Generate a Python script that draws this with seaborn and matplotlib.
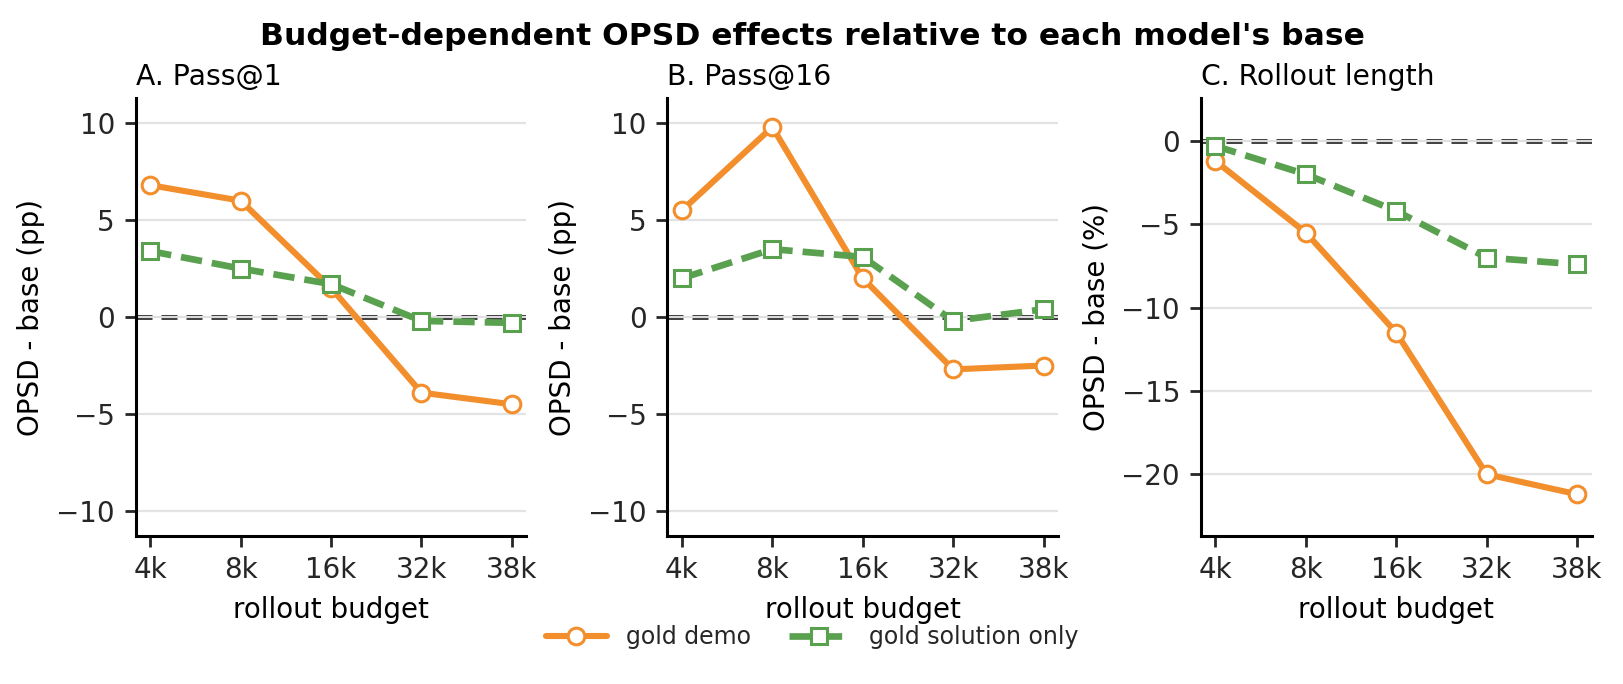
import matplotlib
matplotlib.use("Agg")
import matplotlib.pyplot as plt
import seaborn as sns
import pandas as pd

budgets = ["4k", "8k", "16k", "32k", "38k"]
pass1_demo = [6.8, 6.0, 1.5, -3.9, -4.5]
pass1_sol = [3.4, 2.5, 1.7, -0.2, -0.3]
pass16_demo = [5.5, 9.8, 2.0, -2.7, -2.5]
pass16_sol = [2.0, 3.5, 3.1, -0.2, 0.4]
length_demo = [-1.2, -5.5, -11.5, -20.0, -21.2]
length_sol = [-0.3, -2.0, -4.2, -7.0, -7.4]

panels = [
    ("A. Pass@1", "OPSD - base (pp)", pass1_demo, pass1_sol, (-11.27, 11.27)),
    ("B. Pass@16", "OPSD - base (pp)", pass16_demo, pass16_sol, (-11.27, 11.27)),
    ("C. Rollout length", "OPSD - base (%)", length_demo, length_sol, (-23.68, 2.55)),
]

orange = "#F28E2B"
green = "#59A14F"

sns.set_theme(style="ticks")
plt.rcParams["font.family"] = ["DejaVu Sans"]

fig = plt.figure(figsize=(8.12, 3.42), dpi=200)
lefts = [0.0836, 0.411, 0.7395]
axes = [fig.add_axes([l, 0.217, 0.2405, 0.639]) for l in lefts]

for ax, (title, ylab, demo, sol, ylim) in zip(axes, panels):
    df = pd.DataFrame({"budget": budgets, "demo": demo, "sol": sol})
    ax.yaxis.grid(True, color="#e3e3e3", lw=0.8)
    ax.set_axisbelow(True)
    # zero reference line
    ax.axhline(0, color="#444444", lw=1.8, ls=(0, (3.2, 1.8)), zorder=1.5)
    ax.axhline(0, color="#e0e0e0", lw=0.7, zorder=1.6)
    sns.lineplot(data=df, x="budget", y="demo", ax=ax, color=orange, lw=2.2,
                 marker="o", markersize=6, markerfacecolor="white",
                 markeredgecolor=orange, markeredgewidth=1.1, label="gold demo", zorder=3)
    sns.lineplot(data=df, x="budget", y="sol", ax=ax, color=green, lw=2.4,
                 marker="s", markersize=6, markerfacecolor="white",
                 markeredgecolor=green, markeredgewidth=1.1, linestyle=(0, (3.2, 1.5)),
                 label="gold solution only", zorder=3)
    ax.set_xlim(-0.16, 4.16)
    ax.set_ylim(*ylim)
    ax.set_title(title, loc="left", fontsize=10.2, pad=5, color="black")
    ax.set_xlabel("rollout budget", fontsize=10, color="black")
    ax.set_ylabel(ylab, fontsize=10, color="black")
    ax.tick_params(labelsize=10, length=4, width=1, labelcolor="#262626")
    for s in ["left", "bottom"]:
        ax.spines[s].set_linewidth(1.1)
        ax.spines[s].set_color("black")
    sns.despine(ax=ax)
    ax.get_legend().remove()

handles, labels = axes[0].get_legend_handles_labels()
fig.legend(handles, labels, loc="lower center", bbox_to_anchor=(0.5, 0.02), ncol=2,
           frameon=False, fontsize=8.5, handlelength=2.6, columnspacing=1.6)
fig.suptitle("Budget-dependent OPSD effects relative to each model's base",
             fontsize=11.3, fontweight="bold", y=0.968, color="black")

fig.savefig("out.png", dpi=200)
